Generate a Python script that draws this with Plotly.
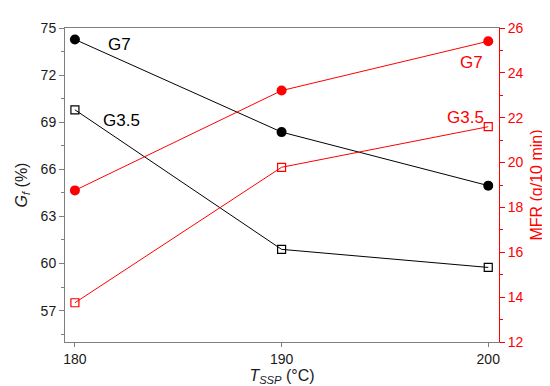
import plotly.graph_objects as go

temps = [180, 190, 200]
gf_g7 = [74.27, 68.37, 64.96]
gf_g35 = [69.79, 60.9, 59.75]
mfr_g7 = [18.76, 23.21, 25.41]
mfr_g35 = [13.75, 19.79, 21.6]

RED = "#ff0000"
GRAY = "#7f7f7f"
FONT = "Liberation Sans, Arial, sans-serif"

fig = go.Figure()
fig.add_trace(go.Scatter(x=temps, y=gf_g7, mode="lines+markers",
                         line=dict(color="black", width=1),
                         marker=dict(symbol="circle", size=10, color="black"),
                         showlegend=False))
fig.add_trace(go.Scatter(x=temps, y=gf_g35, mode="lines+markers",
                         line=dict(color="black", width=1),
                         marker=dict(symbol="square-open", size=8, color="black",
                                     line=dict(width=1.2, color="black")),
                         showlegend=False))
fig.add_trace(go.Scatter(x=temps, y=mfr_g7, mode="lines+markers", yaxis="y2",
                         line=dict(color=RED, width=1),
                         marker=dict(symbol="circle", size=10, color=RED),
                         showlegend=False))
fig.add_trace(go.Scatter(x=temps, y=mfr_g35, mode="lines+markers", yaxis="y2",
                         line=dict(color=RED, width=1),
                         marker=dict(symbol="square-open", size=8, color=RED,
                                     line=dict(width=1.2, color=RED)),
                         showlegend=False))

annos = [
    dict(x=182.17, y=73.96, xref="x", yref="y", text="G7", font=dict(color="black", size=17)),
    dict(x=182.23, y=69.12, xref="x", yref="y", text="G3.5", font=dict(color="black", size=17)),
    dict(x=199.17, y=24.46, xref="x", yref="y2", text="G7", font=dict(color=RED, size=17)),
    dict(x=198.92, y=21.99, xref="x", yref="y2", text="G3.5", font=dict(color=RED, size=17)),
]
for a in annos:
    a.update(showarrow=False, font=dict(family=FONT, **a["font"]))

fig.update_layout(
    width=550, height=386,
    margin=dict(l=57, r=59, t=15, b=52),
    paper_bgcolor="white", plot_bgcolor="white",
    font=dict(family=FONT, size=14, color="#1a1a1a"),
    annotations=annos,
    xaxis=dict(range=[179.52, 200.52], tickvals=[180, 190, 200],
               showgrid=False, zeroline=False,
               showline=True, linecolor=GRAY, linewidth=1, mirror=True,
               ticks="outside", ticklen=4, tickcolor=GRAY,
               tickfont=dict(size=14),
               title=dict(text="<i>T</i><sub><i>SSP</i></sub> (°C)", font=dict(size=16), standoff=2)),
    yaxis=dict(range=[55, 75], tick0=57, dtick=3,
               showgrid=False, zeroline=False,
               showline=True, linecolor=GRAY, linewidth=1,
               ticks="outside", ticklen=5, tickcolor=GRAY,
               tickfont=dict(size=14),
               minor=dict(ticks="outside", ticklen=3, tickcolor=GRAY, dtick=1.5, tick0=55.5, showgrid=False),
               title=dict(text="<i>G</i><sub><i>f</i></sub> (%)", font=dict(size=16), standoff=9)),
    yaxis2=dict(range=[12, 26], tick0=12, dtick=2, overlaying="y", side="right",
                showgrid=False, zeroline=False,
                showline=True, linecolor=RED, linewidth=1,
                ticks="outside", ticklen=5, tickcolor=RED,
                tickfont=dict(color=RED, size=14),
                minor=dict(ticks="outside", ticklen=3, tickcolor=RED, dtick=1, showgrid=False),
                title=dict(text="MFR (g/10 min)", font=dict(size=16, color=RED), standoff=8)),
)

fig.write_html("out.html")
